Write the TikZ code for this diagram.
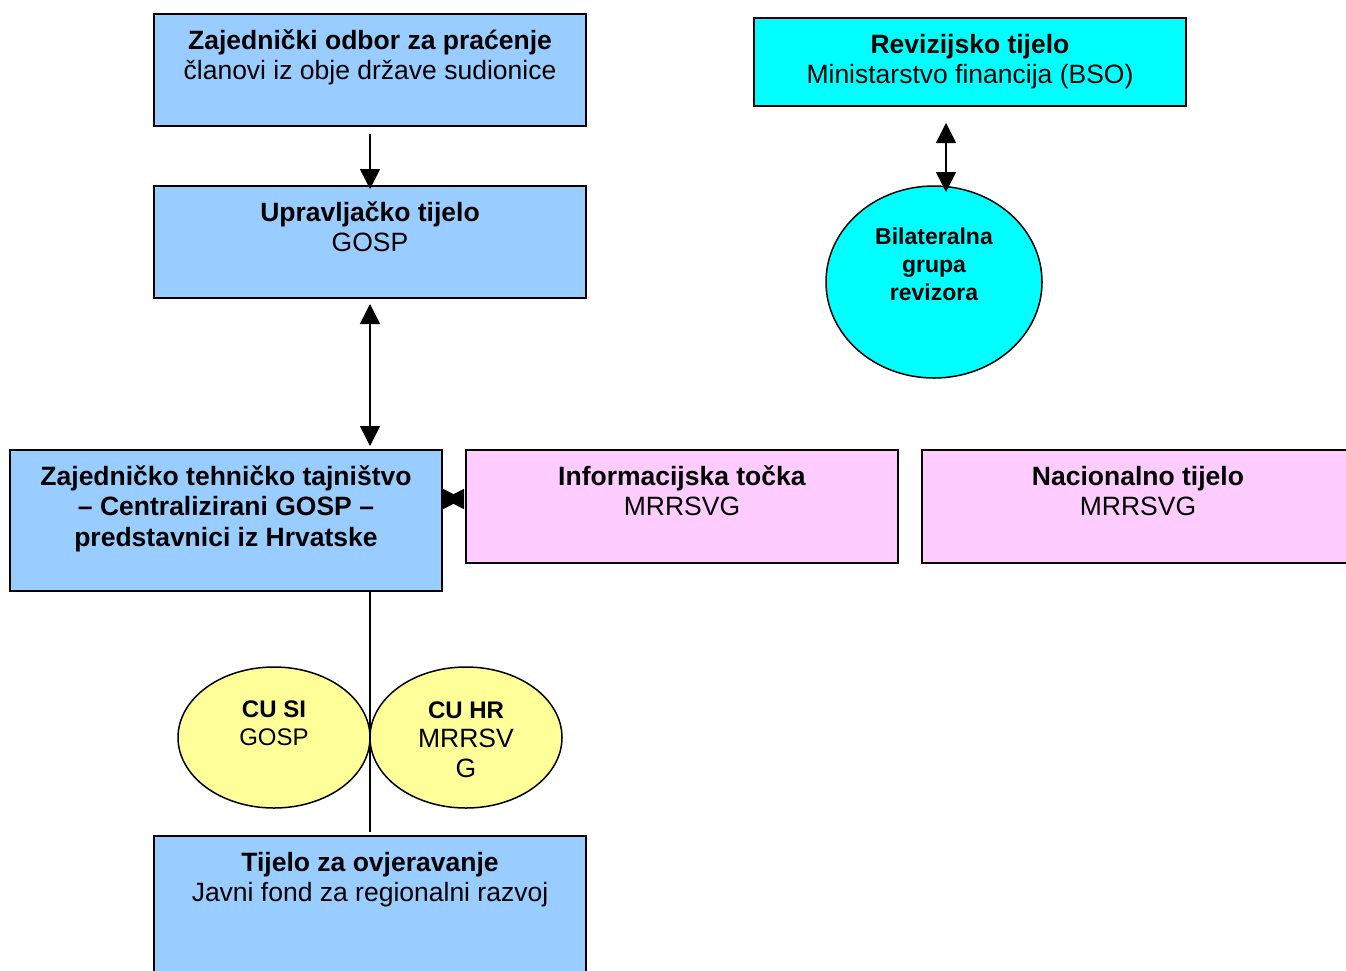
\documentclass[tikz,border=0pt]{standalone}
\usepackage{fontspec}
\setmainfont{Liberation Sans}
\usetikzlibrary{arrows.meta}
\usetikzlibrary{positioning}
\usetikzlibrary{shapes.geometric}
\definecolor{bodyblue}{HTML}{99CCFF}
\definecolor{bodycyan}{HTML}{00FFFF}
\definecolor{bodypink}{HTML}{FFCCFF}
\definecolor{bodyyellow}{HTML}{FFFF99}
% text in a box: width, height, then the lines (top aligned)
\newcommand{\bodytext}[3]{\parbox[c][#2][t]{#1}{\centering\rule{0pt}{35pt}#3}}
\tikzset{
    body/.style={
           rectangle,
           draw=black, line width=1.5pt,
           inner sep=0pt, outer sep=0pt,
           anchor=north west,
           font=\fontsize{26.5}{30.5}\selectfont,
           },
    unit/.style={
           ellipse,
           draw=black, line width=1.5pt,
           inner sep=0pt, outer sep=0pt,
           },
    unittext/.style={
           align=center,
           inner sep=0pt,
           font=\fontsize{24}{28}\selectfont,
           },
    link/.style={
           line width=1.5pt,
           },
}
\begin{document}
\begin{tikzpicture}[x=1pt, y=1pt, >={Triangle[width=20pt,length=20pt]}]

 \useasboundingbox (0,0) rectangle (1346,-970);
 \clip (0,0) rectangle (1346,-970);

 \node[body, fill=bodyblue] (Odbor) at (154,-14)
 {\bodytext{432pt}{112pt}{\textbf{Zajednički odbor za praćenje}\\ članovi iz obje države sudionice}};

  \node[body, fill=bodyblue,    	% layout (defined above)
  below=60pt of Odbor.south west, 	% under the committee
  anchor=north west] (Upravljacko) 	% top left corner
  {\bodytext{432pt}{112pt}{\textbf{Upravljačko tijelo}\\GOSP}};

  \node[body, fill=bodycyan] (Revizija) at (754,-18)
  {\bodytext{432pt}{88pt}{\textbf{Revizijsko tijelo}\\Ministarstvo financija (BSO)}};

  \node[body, fill=bodyblue] (Tajnistvo) at (10,-450)
  {\bodytext{432pt}{141pt}{\textbf{Zajedničko tehničko tajništvo}\\
  	\textbf{-- Centralizirani GOSP --}\\
  	\textbf{predstavnici iz Hrvatske}}};

  \node[body, fill=bodypink,    	% layout (defined above)
  right=24pt of Tajnistvo.north east, 	% next to the secretariat
  anchor=north west] (Tocka) 	% top left corner
  {\bodytext{432pt}{113pt}{\textbf{Informacijska točka}\\MRRSVG}};

  \node[body, fill=bodypink,    	% layout (defined above)
  right=24pt of Tocka.north east, 	% next to the info point
  anchor=north west] (Nacionalno) 	% top left corner
  {\bodytext{432pt}{113pt}{\textbf{Nacionalno tijelo}\\MRRSVG}};

  \node[body, fill=bodyblue] (Ovjeravanje) at (154,-836)
  {\bodytext{432pt}{140pt}{\textbf{Tijelo za ovjeravanje}\\Javni fond za regionalni razvoj}};

 % auditors and control units
  \node[unit, fill=bodycyan, minimum width=216pt, minimum height=192pt] (Bilateralna) at (934,-282) {};
  \node[unittext, font=\fontsize{23}{28}\selectfont\bfseries] (BilateralnaText) at ([yshift=18pt]Bilateralna.center)
  {Bilateralna\\grupa\\revizora};

  \node[unit, fill=bodyyellow, minimum width=192pt, minimum height=141pt] (CUSI) at (274,-737.5) {};
  \node[unittext] (CUSIText) at ([yshift=14pt]CUSI.center) {\textbf{CU SI}\\GOSP};

  \node[unit, fill=bodyyellow, minimum width=192pt, minimum height=141pt] (CUHR) at (466,-737.5) {};
  \node[unittext, font=\fontsize{26.5}{29.5}\selectfont] (CUHRText) at ([yshift=-2pt]CUHR.center)
  {\fontsize{24}{29.5}\selectfont\textbf{CU HR}\\MRRSV\\G};

 % draw the connectors

 \draw[link, ->, shorten <=8pt, shorten >=-3pt] (Odbor.south) -- (Upravljacko.north);
 \draw[link, <->, shorten <=6pt, shorten >=4pt] (Upravljacko.south) -- (Upravljacko.south |- Tajnistvo.north);
 \draw[link, <->, shorten <=17pt, shorten >=-6pt] ([xshift=12pt]Bilateralna.north |- Revizija.south) -- ([xshift=12pt]Bilateralna.north);
 \draw[link, <->, shorten <=2pt, shorten >=3pt] ([yshift=21.5pt]Tajnistvo.east) -- ([yshift=7.5pt]Tocka.west);
 \draw[link, shorten >=4pt] (Upravljacko.south |- Tajnistvo.south) -- (Ovjeravanje.north);

\end{tikzpicture}
\end{document}
